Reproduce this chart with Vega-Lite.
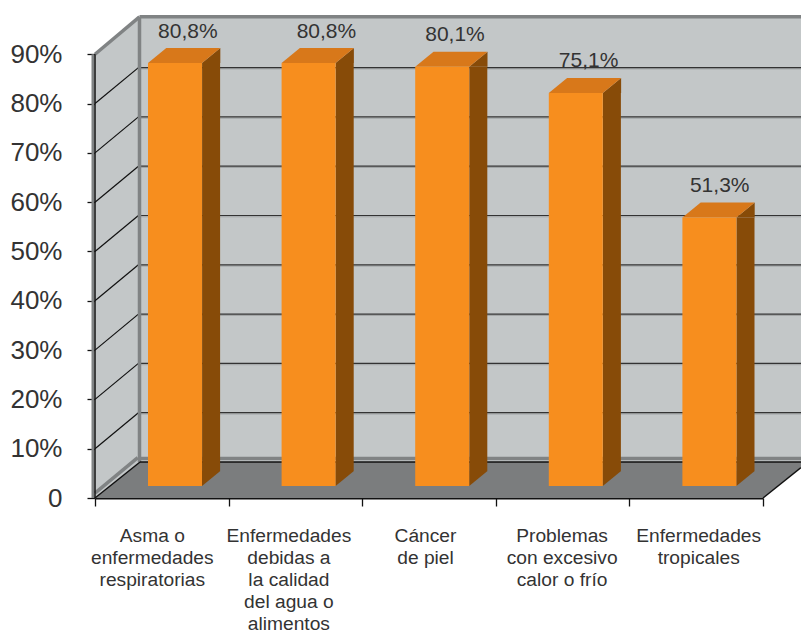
{
"$schema":"https://vega.github.io/schema/vega-lite/v6.json",
"autosize":{"type":"none"},
"padding":{"left":95,"top":0,"right":0,"bottom":135},
"width":706,"height":498,
"background":"white",
"config":{"view":{"stroke":null},"font":"Liberation Sans"},
"datasets":{
"enf":[
{"enfermedad":"Asma o\nenfermedades\nrespiratorias","v":80.8,"rotulo":"80,8%"},
{"enfermedad":"Enfermedades\ndebidas a\nla calidad\ndel agua o\nalimentos","v":80.8,"rotulo":"80,8%"},
{"enfermedad":"Cáncer\nde piel","v":80.1,"rotulo":"80,1%"},
{"enfermedad":"Problemas\ncon excesivo\ncalor o frío","v":75.1,"rotulo":"75,1%"},
{"enfermedad":"Enfermedades\ntropicales","v":51.3,"rotulo":"51,3%"}
],
"paneles":[
{"panel":"fondo","x":0.337,"y":7.3,"y2":97.4},
{"panel":"fondo","x":5.284,"y":7.3,"y2":97.4},
{"panel":"lado","x":0,"y":0,"y2":90},
{"panel":"lado","x":0.337,"y":7.3,"y2":97.4},
{"panel":"piso","x":0,"y":0,"y2":0},
{"panel":"piso","x":0.337,"y":0,"y2":7.3},
{"panel":"piso","x":5,"y":0,"y2":7.3},
{"panel":"piso","x":5.284,"y":6.17,"y2":7.3}
],
"marcas":[{"t":10,"b":17.3},{"t":20,"b":27.3},{"t":30,"b":37.3},{"t":40,"b":47.3},{"t":50,"b":57.3},{"t":60,"b":67.3},{"t":70,"b":77.3},{"t":80,"b":87.3}],
"grises":[
{"x":0.333,"x2":0.333,"y":7.3,"y2":97.6},
{"x":0.333,"x2":5.284,"y":97.6,"y2":97.6},
{"x":0,"x2":0.333,"y":90,"y2":97.6},
{"x":0,"x2":0.32,"y":1,"y2":8.2},
{"x":0.333,"x2":5.284,"y":8,"y2":8}
],
"negros":[
{"x":0,"x2":0,"y":0,"y2":90},
{"x":0,"x2":0.337,"y":0,"y2":7.3},
{"x":0.337,"x2":5.284,"y":7.3,"y2":7.3},
{"x":5,"x2":5.284,"y":0,"y2":6.17}
]
},
"resolve":{"scale":{"x":"independent","y":"independent"}},
"layer":[
{"data":{"name":"paneles"},"mark":{"type":"area","line":false,"opacity":1},
 "encoding":{
  "x":{"field":"x","type":"quantitative","scale":{"domain":[0,5.284],"nice":false,"zero":false},"axis":null},
  "y":{"field":"y","type":"quantitative","scale":{"domain":[0,101.01],"nice":false,"zero":false},
   "axis":{"title":null,"values":[0,10,20,30,40,50,60,70,80,90],"domain":false,"grid":false,"tickColor":"#111111","tickWidth":1.3,"tickSize":8,"labelPadding":25,"labelFont":"Liberation Sans","labelFontSize":26,"labelColor":"#333333","labelExpr":"datum.value==0?'0':datum.value+'%'"}},
  "y2":{"field":"y2"},
  "color":{"field":"panel","type":"nominal","legend":null,"scale":{"domain":["fondo","lado","piso"],"range":["#C3C7C8","#C3C7C8","#7B7D7E"]}}
 }},
{"data":{"name":"marcas"},"mark":{"type":"rule","color":"#A0A4A5","strokeWidth":1,"yOffset":1.3},
 "encoding":{
  "x":{"datum":0.337,"type":"quantitative","scale":{"domain":[0,5.284],"nice":false,"zero":false},"axis":null},
  "x2":{"datum":5.284},
  "y":{"field":"b","type":"quantitative","scale":{"domain":[0,101.01],"nice":false,"zero":false},"axis":null}
 }},
{"data":{"name":"marcas"},"mark":{"type":"rule","color":"#333333","strokeWidth":1.2},
 "encoding":{
  "x":{"datum":0.337,"type":"quantitative","scale":{"domain":[0,5.284],"nice":false,"zero":false},"axis":null},
  "x2":{"datum":5.284},
  "y":{"field":"b","type":"quantitative","scale":{"domain":[0,101.01],"nice":false,"zero":false},"axis":null}
 }},
{"data":{"name":"marcas"},"mark":{"type":"rule","color":"#111111","strokeWidth":1.2},
 "encoding":{
  "x":{"datum":0,"type":"quantitative","scale":{"domain":[0,5.284],"nice":false,"zero":false},"axis":null},
  "x2":{"datum":0.325},
  "y":{"field":"t","type":"quantitative","scale":{"domain":[0,101.01],"nice":false,"zero":false},"axis":null},
  "y2":{"field":"b"}
 }},
{"data":{"name":"grises"},"mark":{"type":"rule","color":"#808384","strokeWidth":3.5},
 "encoding":{
  "x":{"field":"x","type":"quantitative","scale":{"domain":[0,5.284],"nice":false,"zero":false},"axis":null},
  "x2":{"field":"x2"},
  "y":{"field":"y","type":"quantitative","scale":{"domain":[0,101.01],"nice":false,"zero":false},"axis":null},
  "y2":{"field":"y2"}
 }},
{"data":{"values":[{"x":0,"y":0,"y2":90}]},"mark":{"type":"rule","color":"#808384","strokeWidth":3,"xOffset":-2},
 "encoding":{
  "x":{"field":"x","type":"quantitative","scale":{"domain":[0,5.284],"nice":false,"zero":false},"axis":null},
  "y":{"field":"y","type":"quantitative","scale":{"domain":[0,101.01],"nice":false,"zero":false},"axis":null},
  "y2":{"field":"y2"}
 }},
{"data":{"name":"negros"},"mark":{"type":"rule","color":"#111111","strokeWidth":1.5},
 "encoding":{
  "x":{"field":"x","type":"quantitative","scale":{"domain":[0,5.284],"nice":false,"zero":false},"axis":null},
  "x2":{"field":"x2"},
  "y":{"field":"y","type":"quantitative","scale":{"domain":[0,101.01],"nice":false,"zero":false},"axis":null},
  "y2":{"field":"y2"}
 }},
{"data":{"name":"enf"},"mark":{"type":"bar","color":"#874B08","width":18,"xOffset":49.3,"y2Offset":-15},
 "encoding":{
  "x":{"field":"enfermedad","type":"nominal","sort":null,"scale":{"range":[0,668],"paddingInner":0,"paddingOuter":0},
   "axis":{"title":null,"tickBand":"extent","tickSize":8,"tickColor":"#111111","tickWidth":1.3,"domainColor":"#111111","domainWidth":2,"labelAngle":0,"labelPadding":20,"labelFont":"Liberation Sans","labelFontSize":19.2,"labelLineHeight":22.1,"labelColor":"#333333","labelBaseline":"top","labelLimit":300,"labelOverlap":false,"labelExpr":"split(datum.label,'\\n')",
   "labelOffset":{"condition":[{"test":"indexof(datum.label,'Asma')==0","value":-10},{"test":"indexof(datum.label,'debidas')>=0","value":-7},{"test":"indexof(datum.label,'piel')>=0","value":-4},{"test":"indexof(datum.label,'Problemas')==0","value":-1}],"value":2}}},
  "y":{"field":"v","type":"quantitative","scale":{"domain":[-2.29,92.85],"nice":false,"zero":false},"axis":null},
  "y2":{"datum":0}
 }},
{"data":{"name":"enf"},"mark":{"type":"point","filled":true,"size":4,"opacity":1,"strokeWidth":0,"color":"#874B08","shape":"M40.2,0L58.5,-15L58.5,0Z"},
 "encoding":{
  "x":{"field":"enfermedad","type":"nominal","sort":null,"scale":{"range":[0,668],"paddingInner":0,"paddingOuter":0},"axis":null},
  "y":{"field":"v","type":"quantitative","scale":{"domain":[-2.29,92.85],"nice":false,"zero":false},"axis":null}
 }},
{"data":{"name":"enf"},"mark":{"type":"point","filled":true,"size":4,"opacity":1,"strokeWidth":0,"color":"#874B08","shape":"M40.2,-15L58.5,-15L40.2,0Z"},
 "encoding":{
  "x":{"field":"enfermedad","type":"nominal","sort":null,"scale":{"range":[0,668],"paddingInner":0,"paddingOuter":0},"axis":null},
  "y":{"datum":0,"type":"quantitative","scale":{"domain":[-2.29,92.85],"nice":false,"zero":false},"axis":null}
 }},
{"data":{"name":"enf"},"mark":{"type":"point","filled":true,"size":4,"opacity":1,"strokeWidth":0,"color":"#D8781A","shape":"M-13.8,0L40.2,0L58.5,-15L4.5,-15Z"},
 "encoding":{
  "x":{"field":"enfermedad","type":"nominal","sort":null,"scale":{"range":[0,668],"paddingInner":0,"paddingOuter":0},"axis":null},
  "y":{"field":"v","type":"quantitative","scale":{"domain":[-2.29,92.85],"nice":false,"zero":false},"axis":null}
 }},
{"data":{"name":"enf"},"mark":{"type":"bar","color":"#F78E1E","width":54,"xOffset":13.2},
 "encoding":{
  "x":{"field":"enfermedad","type":"nominal","sort":null,"scale":{"range":[0,668],"paddingInner":0,"paddingOuter":0},"axis":null},
  "y":{"field":"v","type":"quantitative","scale":{"domain":[-2.29,92.85],"nice":false,"zero":false},"axis":null},
  "y2":{"datum":0}
 }},
{"data":{"name":"enf"},"mark":{"type":"text","fontSize":21,"font":"Liberation Sans","color":"#333333","baseline":"middle","yOffset":-31.5,"xOffset":{"expr":"indexof(datum.enfermedad,'debidas')>=0?31:indexof(datum.enfermedad,'tropicales')>=0?23.5:26"}},
 "encoding":{
  "x":{"field":"enfermedad","type":"nominal","sort":null,"scale":{"range":[0,668],"paddingInner":0,"paddingOuter":0},"axis":null},
  "y":{"field":"v","type":"quantitative","scale":{"domain":[-2.29,92.85],"nice":false,"zero":false},"axis":null},
  "text":{"field":"rotulo"}
 }}
]
}
